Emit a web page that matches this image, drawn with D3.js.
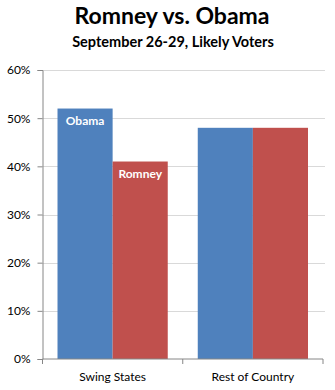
<!DOCTYPE html>
<html><head><meta charset="utf-8">
<script src="https://cdn.jsdelivr.net/npm/d3@7"></script>
<style>html,body{margin:0;padding:0;background:#fff;}svg{display:block;font-family:Lato,"Open Sans",sans-serif;}</style>
</head><body>
<script>
const categories = ["Swing States", "Rest of Country"];
const seriesNames = ["Obama", "Romney"];
const obama = [52, 48];
const romney = [41, 48];
const yTicks = [0, 10, 20, 30, 40, 50, 60];
const title = "Romney vs. Obama";
const subtitle = "September 26-29, Likely Voters";

const W = 335, H = 390;
const m = {left: 42.5, right: 12, top: 70, bottom: 31};
const svg = d3.select("body").append("svg").attr("width", W).attr("height", H);

const x0 = d3.scaleBand().domain(categories).range([m.left, W - m.right]).paddingInner(0.214).paddingOuter(0.107);
const x1 = d3.scaleBand().domain(seriesNames).range([0, x0.bandwidth()]);
const y = d3.scaleLinear().domain([0, 60]).range([H - m.bottom, m.top]);
const colors = {Obama: "#4F81BD", Romney: "#C0504D"};

svg.append("text").attr("x", 172).attr("y", 24).attr("text-anchor", "middle")
  .attr("font-size", 23).attr("font-weight", "bold").attr("fill", "#000").text(title);
svg.append("text").attr("x", 173).attr("y", 47).attr("text-anchor", "middle")
  .attr("font-size", 14.5).attr("font-weight", "bold").attr("fill", "#000").text(subtitle);

// gridlines
svg.append("g").selectAll("line").data(yTicks.filter(d => d > 0)).join("line")
  .attr("x1", m.left).attr("x2", W - m.right + 2)
  .attr("y1", d => Math.round(y(d)) + 0.5).attr("y2", d => Math.round(y(d)) + 0.5)
  .attr("stroke", "#d9d9d9").attr("stroke-width", 1);

// bars
const data = categories.map((c, i) => ({cat: c, vals: [{s: "Obama", v: obama[i]}, {s: "Romney", v: romney[i]}]}));
const g = svg.append("g").selectAll("g").data(data).join("g")
  .attr("transform", d => `translate(${x0(d.cat)},0)`);
g.selectAll("rect").data(d => d.vals).join("rect")
  .attr("x", d => x1(d.s)).attr("width", x1.bandwidth())
  .attr("y", d => y(d.v)).attr("height", d => y(0) - y(d.v))
  .attr("fill", d => colors[d.s]);

// in-bar labels for first category
svg.append("g").selectAll("text").data(data[0].vals).join("text")
  .attr("x", d => x0(categories[0]) + x1(d.s) + x1.bandwidth() / 2)
  .attr("y", d => y(d.v) + 16)
  .attr("text-anchor", "middle").attr("font-size", 12).attr("font-weight", "bold")
  .attr("fill", "#fff").text(d => d.s);

// y axis
const yAxis = d3.axisLeft(y).tickValues(yTicks).tickFormat(d => d + "%").tickSize(5).tickPadding(7);
const ya = svg.append("g").attr("transform", `translate(${m.left},0)`).call(yAxis);
ya.select(".domain").attr("stroke", "#868686");
ya.selectAll(".tick line").attr("stroke", "#868686");
ya.selectAll(".tick text").attr("font-size", 12).attr("fill", "#000").attr("font-family", "Lato, sans-serif");

// x axis
const xa = svg.append("g").attr("transform", `translate(0,${y(0)})`);
xa.append("line").attr("x1", m.left).attr("x2", W - m.right).attr("stroke", "#868686");
const edges = [m.left, ...categories.slice(1).map(c => x0(c) - x0.step() * x0.paddingInner() / 2), W - m.right];
xa.selectAll(".tk").data(edges).join("line").attr("class", "tk")
  .attr("x1", d => d).attr("x2", d => d).attr("y1", 0).attr("y2", 5).attr("stroke", "#868686");
xa.selectAll(".lbl").data(categories).join("text").attr("class", "lbl")
  .attr("x", d => x0(d) + x0.bandwidth() / 2).attr("y", 22)
  .attr("text-anchor", "middle").attr("font-size", 12).attr("fill", "#000").text(d => d);
</script>
</body></html>
